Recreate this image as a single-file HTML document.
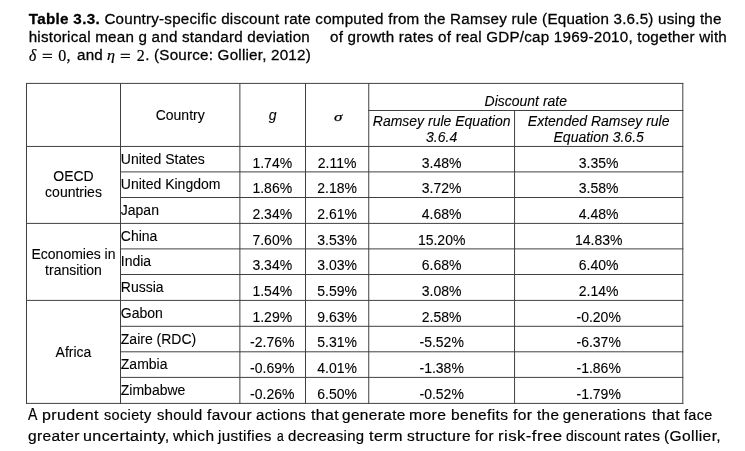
<!DOCTYPE html>
<html lang="en"><head><meta charset="utf-8"><title>Table 3.3</title>
<style>
html,body{margin:0;padding:0;background:#fff;}
body{width:745px;height:451px;position:relative;overflow:hidden;font-family:"Liberation Sans",sans-serif;color:#000;-webkit-text-stroke:0.2px #000;}
p,table,thead,tbody,tr{display:block;margin:0;padding:0;border:0;}
th,td{display:block;margin:0;padding:0;border:0;font-weight:normal;}
svg{position:absolute;left:0;top:0;}
.t{position:absolute;white-space:nowrap;line-height:1;}
.cap{font-size:15.2px;letter-spacing:0.215px;-webkit-text-stroke:0.27px #000;}
.c{font-size:14px;text-align:center;-webkit-text-stroke:0.1px #000;}
.l{font-size:14px;text-align:left;-webkit-text-stroke:0.1px #000;}
.two{line-height:16px;}
.i{font-style:italic;}
.body{font-size:15.2px;letter-spacing:0.36px;transform-origin:0 0;}
.m{font-family:"Liberation Serif","DejaVu Serif",serif;font-style:italic;font-size:16px;letter-spacing:0;transform-origin:0 0;}
.mr{font-family:"Liberation Serif","DejaVu Serif",serif;font-size:16px;letter-spacing:0;transform-origin:0 0;}
.eq{transform:scaleX(1.18);-webkit-text-stroke:0.35px #000;}
.sig{font-size:13.4px;display:inline-block;transform:scaleX(1.27);transform-origin:50% 50%;-webkit-text-stroke:0.25px #000;position:static;}
</style></head><body>

<svg width="745" height="451" viewBox="0 0 745 451" aria-hidden="true"><g stroke="#404040" stroke-width="1" fill="none"><line x1="26.0" y1="83.4" x2="683.3" y2="83.4"/><line x1="368.25" y1="110.5" x2="683.3" y2="110.5"/><line x1="26.0" y1="146.45" x2="683.3" y2="146.45"/><line x1="120.0" y1="171.9" x2="683.3" y2="171.9"/><line x1="120.0" y1="197.5" x2="683.3" y2="197.5"/><line x1="26.0" y1="223.4" x2="683.3" y2="223.4"/><line x1="120.0" y1="248.9" x2="683.3" y2="248.9"/><line x1="120.0" y1="274.5" x2="683.3" y2="274.5"/><line x1="26.0" y1="300.4" x2="683.3" y2="300.4"/><line x1="120.0" y1="326.3" x2="683.3" y2="326.3"/><line x1="120.0" y1="351.8" x2="683.3" y2="351.8"/><line x1="120.0" y1="377.4" x2="683.3" y2="377.4"/><line x1="26.0" y1="403.4" x2="683.3" y2="403.4"/><line x1="26.5" y1="83.00" x2="26.5" y2="403.90"/><line x1="120.5" y1="83.00" x2="120.5" y2="403.90"/><line x1="239.88" y1="83.00" x2="239.88" y2="403.90"/><line x1="305.5" y1="83.00" x2="305.5" y2="403.90"/><line x1="368.75" y1="83.00" x2="368.75" y2="403.90"/><line x1="514.55" y1="110.10" x2="514.55" y2="403.90"/><line x1="682.8" y1="83.00" x2="682.8" y2="403.90"/></g></svg>
<p><span class="t cap" style="left:28.7px;top:11px"><b style="letter-spacing:0.32px">Table 3.3.</b> Country-specific discount rate computed from the Ramsey rule (Equation 3.6.5) using the</span>
<span class="t cap" style="left:28.7px;top:29px">historical mean g and standard deviation</span>
<span class="t cap" style="left:330px;top:29px">of growth rates of real GDP/cap 1969-2010, together with</span>
<span class="t m" style="left:28.9px;top:48px;font-size:16px;transform:scaleX(0.97);">δ</span>
<span class="t mr eq" style="left:42.0px;top:49px;">=</span>
<span class="t mr" style="left:58.3px;top:48px;">0</span>
<span class="t mr" style="left:66.6px;top:48px;">,</span>
<span class="t cap" style="left:77.0px;top:47px;">and</span>
<span class="t m" style="left:107.2px;top:49px;font-size:14px;transform:scaleX(1.15);">η</span>
<span class="t mr eq" style="left:120.2px;top:49px;">=</span>
<span class="t mr" style="left:136.8px;top:48px;">2</span>
<span class="t cap" style="left:145.2px;top:47px;">. (Source: Gollier, 2012)</span></p>
<table>
<thead>
<tr>
<th rowspan="2" style="display:none"></th>
<th rowspan="2" class="t c" style="left:120.50px;width:119.38px;top:108px">Country</th>
<th rowspan="2" class="t c i" style="left:239.88px;width:65.62px;top:108px">g</th>
<th rowspan="2" class="t c" style="left:306.50px;width:63.25px;top:109px"><span class="m sig">σ</span></th>
<th colspan="2" class="t c i" style="left:368.75px;width:314.05px;top:94px">Discount rate</th>
</tr>
<tr>
<th class="t c i two" style="left:368.75px;width:145.80px;top:113px">Ramsey rule Equation<br>3.6.4</th>
<th class="t c i two" style="left:514.55px;width:168.25px;top:113px">Extended Ramsey rule<br>Equation 3.6.5</th>
</tr>
</thead>
<tbody>
<tr>
<th rowspan="3" class="t c two" style="left:26.50px;width:94.00px;top:168px">OECD<br>countries</th>
<td class="t l" style="left:120.80px;top:152px">United States</td>
<td class="t c" style="left:239.48px;width:65.62px;top:156px">1.74%</td>
<td class="t c" style="left:305.50px;width:63.25px;top:156px">2.11%</td>
<td class="t c" style="left:368.75px;width:145.80px;top:156px">3.48%</td>
<td class="t c" style="left:514.55px;width:168.25px;top:156px">3.35%</td>
</tr>
<tr>
<td class="t l" style="left:120.80px;top:177px">United Kingdom</td>
<td class="t c" style="left:239.48px;width:65.62px;top:181px">1.86%</td>
<td class="t c" style="left:305.50px;width:63.25px;top:181px">2.18%</td>
<td class="t c" style="left:368.75px;width:145.80px;top:181px">3.72%</td>
<td class="t c" style="left:514.55px;width:168.25px;top:181px">3.58%</td>
</tr>
<tr>
<td class="t l" style="left:120.80px;top:203px">Japan</td>
<td class="t c" style="left:239.48px;width:65.62px;top:207px">2.34%</td>
<td class="t c" style="left:305.50px;width:63.25px;top:207px">2.61%</td>
<td class="t c" style="left:368.75px;width:145.80px;top:207px">4.68%</td>
<td class="t c" style="left:514.55px;width:168.25px;top:207px">4.48%</td>
</tr>
<tr>
<th rowspan="3" class="t c two" style="left:26.50px;width:94.00px;top:246px">Economies in<br>transition</th>
<td class="t l" style="left:120.80px;top:229px">China</td>
<td class="t c" style="left:239.48px;width:65.62px;top:233px">7.60%</td>
<td class="t c" style="left:305.50px;width:63.25px;top:233px">3.53%</td>
<td class="t c" style="left:368.75px;width:145.80px;top:233px">15.20%</td>
<td class="t c" style="left:514.55px;width:168.25px;top:233px">14.83%</td>
</tr>
<tr>
<td class="t l" style="left:120.80px;top:254px">India</td>
<td class="t c" style="left:239.48px;width:65.62px;top:258px">3.34%</td>
<td class="t c" style="left:305.50px;width:63.25px;top:258px">3.03%</td>
<td class="t c" style="left:368.75px;width:145.80px;top:258px">6.68%</td>
<td class="t c" style="left:514.55px;width:168.25px;top:258px">6.40%</td>
</tr>
<tr>
<td class="t l" style="left:120.80px;top:280px">Russia</td>
<td class="t c" style="left:239.48px;width:65.62px;top:284px">1.54%</td>
<td class="t c" style="left:305.50px;width:63.25px;top:284px">5.59%</td>
<td class="t c" style="left:368.75px;width:145.80px;top:284px">3.08%</td>
<td class="t c" style="left:514.55px;width:168.25px;top:284px">2.14%</td>
</tr>
<tr>
<th rowspan="4" class="t c" style="left:26.50px;width:94.00px;top:345px">Africa</th>
<td class="t l" style="left:120.80px;top:306px">Gabon</td>
<td class="t c" style="left:239.48px;width:65.62px;top:310px">1.29%</td>
<td class="t c" style="left:305.50px;width:63.25px;top:310px">9.63%</td>
<td class="t c" style="left:368.75px;width:145.80px;top:310px">2.58%</td>
<td class="t c" style="left:514.55px;width:168.25px;top:310px">-0.20%</td>
</tr>
<tr>
<td class="t l" style="left:120.80px;top:332px">Zaire (RDC)</td>
<td class="t c" style="left:239.48px;width:65.62px;top:335px">-2.76%</td>
<td class="t c" style="left:305.50px;width:63.25px;top:335px">5.31%</td>
<td class="t c" style="left:368.75px;width:145.80px;top:335px">-5.52%</td>
<td class="t c" style="left:514.55px;width:168.25px;top:335px">-6.37%</td>
</tr>
<tr>
<td class="t l" style="left:120.80px;top:357px">Zambia</td>
<td class="t c" style="left:239.48px;width:65.62px;top:361px">-0.69%</td>
<td class="t c" style="left:305.50px;width:63.25px;top:361px">4.01%</td>
<td class="t c" style="left:368.75px;width:145.80px;top:361px">-1.38%</td>
<td class="t c" style="left:514.55px;width:168.25px;top:361px">-1.86%</td>
</tr>
<tr>
<td class="t l" style="left:120.80px;top:383px">Zimbabwe</td>
<td class="t c" style="left:239.48px;width:65.62px;top:387px">-0.26%</td>
<td class="t c" style="left:305.50px;width:63.25px;top:387px">6.50%</td>
<td class="t c" style="left:368.75px;width:145.80px;top:387px">-0.52%</td>
<td class="t c" style="left:514.55px;width:168.25px;top:387px">-1.79%</td>
</tr>
</tbody>
</table>
<p><span class="t body" style="left:28.4px;top:407px;font-size:15.6px;transform:scaleX(0.9)">A</span>
<span class="t body" style="left:41.5px;top:407px;transform:scaleX(1.054)">prudent</span>
<span class="t body" style="left:103.6px;top:407px;transform:scaleX(0.954)">society</span>
<span class="t body" style="left:156.9px;top:407px;transform:scaleX(0.969)">should</span>
<span class="t body" style="left:207.3px;top:407px;transform:scaleX(1.011)">favour</span>
<span class="t body" style="left:255.6px;top:407px;transform:scaleX(0.989)">actions</span>
<span class="t body" style="left:311.1px;top:407px;transform:scaleX(1.043)">that</span>
<span class="t body" style="left:342.3px;top:407px;transform:scaleX(1.014)">generate</span>
<span class="t body" style="left:409.3px;top:407px;transform:scaleX(1.033)">more</span>
<span class="t body" style="left:450.7px;top:407px;transform:scaleX(1.022)">benefits</span>
<span class="t body" style="left:512.5px;top:407px;transform:scaleX(1.020)">for</span>
<span class="t body" style="left:537.0px;top:407px;transform:scaleX(1.004)">the</span>
<span class="t body" style="left:562.8px;top:407px;transform:scaleX(1.000)">generations</span>
<span class="t body" style="left:651.5px;top:407px;transform:scaleX(1.043)">that</span>
<span class="t body" style="left:684.3px;top:407px;transform:scaleX(0.949)">face</span>
<span class="t body" style="left:27.5px;top:428px;transform:scaleX(1.023)">greater</span>
<span class="t body" style="left:83.3px;top:428px;transform:scaleX(1.059)">uncertainty,</span>
<span class="t body" style="left:172.5px;top:428px;transform:scaleX(1.019)">which</span>
<span class="t body" style="left:218.4px;top:428px;transform:scaleX(0.998)">justifies</span>
<span class="t body" style="left:276.6px;top:428px;transform:scaleX(0.800)">a</span>
<span class="t body" style="left:287.9px;top:428px;transform:scaleX(0.982)">decreasing</span>
<span class="t body" style="left:368.5px;top:428px;transform:scaleX(1.068)">term</span>
<span class="t body" style="left:406.7px;top:428px;transform:scaleX(1.026)">structure</span>
<span class="t body" style="left:475.2px;top:428px;transform:scaleX(1.004)">for</span>
<span class="t body" style="left:497.7px;top:428px;transform:scaleX(1.109)">risk-free</span>
<span class="t body" style="left:565.5px;top:428px;transform:scaleX(0.920)">discount</span>
<span class="t body" style="left:623.7px;top:428px;transform:scaleX(1.023)">rates</span>
<span class="t body" style="left:663.6px;top:428px;transform:scaleX(1.027)">(Gollier,</span></p>
</body></html>
